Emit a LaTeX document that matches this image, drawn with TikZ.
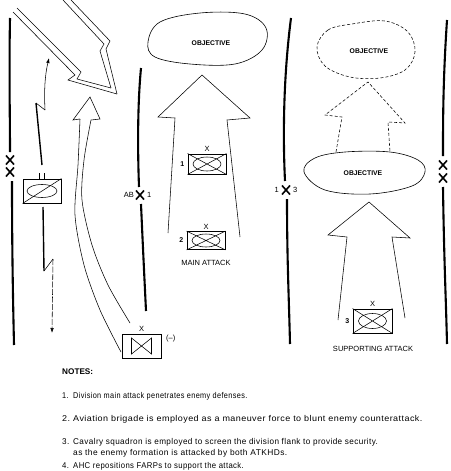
\documentclass[tikz,border=0pt]{standalone}
\usepackage{fontspec}
\setmainfont{Liberation Sans}
\usetikzlibrary{arrows.meta}
\begin{document}
\begin{tikzpicture}[x=1pt,y=-1pt,
  bound/.style={line width=2.1pt},
  xmk/.style={line width=1.6pt},
  fine/.style={line width=0.55pt},
  unitbox/.style={draw, line width=0.9pt, minimum width=38pt, minimum height=20pt, inner sep=0pt},
  lbl/.style={font=\fontsize{7.5}{8}\selectfont, inner sep=0pt},
  numl/.style={font=\bfseries\fontsize{7}{8}\selectfont, inner sep=0pt},
  objl/.style={font=\bfseries\fontsize{6.8}{7}\selectfont, inner sep=0pt},
  notel/.style={font=\fontsize{8.4}{10}\selectfont\addfontfeature{LetterSpace=5}, anchor=west, inner sep=0pt},
  arr/.style={-{Latex[length=5pt,width=3.5pt]}},
  bx/.pic={\draw[xmk] (-4,-4.5)--(4,4.5) (-4,4.5)--(4,-4.5);}
]
\useasboundingbox (0,0) rectangle (450,471);
\fill[white] (0,0) rectangle (450,471);

% ---------- boundaries ----------
\draw[bound] (10,18) .. controls (9,70) and (10,120) .. (10,152);
\pic at (10,160) {bx};
\pic at (10,172) {bx};
\draw[bound] (12,181) .. controls (12,250) and (13,300) .. (14,345);

\draw[bound] (141,68) .. controls (137,110) and (138,160) .. (139,187);
\pic at (140,195) {bx};
\node[lbl, anchor=east] (ab) at (134,195) {AB};
\node[lbl, anchor=west] (ab1) at (147,195) {1};
\draw[bound] (141,204) .. controls (143,250) and (145,290) .. (146,311);

\draw[bound] (291,18) .. controls (283,80) and (283,140) .. (285,181);
\pic at (286,190) {bx};
\node[lbl, anchor=east] (b13a) at (279,190) {1};
\node[lbl, anchor=west] (b13b) at (293,190) {3};
\draw[bound] (287,199) .. controls (287,260) and (289,300) .. (290,344);

\draw[bound] (447,20) .. controls (443,80) and (443,120) .. (443,156);
\pic at (443,165) {bx};
\pic at (443,178) {bx};
\draw[bound] (443,187) .. controls (444,260) and (446,300) .. (447,344);

% ---------- enemy arrows ----------
\draw[fine] (17,8) -- (81,72) -- (77,79) -- (111,88);
\draw[fine] (13,12) -- (75,75) -- (68,80) -- (117,94);
\draw[fine] (63,0) -- (104,44) -- (100,51) -- (111,88);
\draw[fine] (71,0) -- (110,41) -- (106,49) -- (117,94);

% ---------- cavalry squadron ----------
\node[unitbox, minimum height=24pt] (cav) at (42,191) {};
\draw[fine] (cav.south west) -- (cav.north east);
\draw[fine] (cav.center) ellipse (15pt and 6.5pt);
\draw[line width=0.7pt] ([xshift=-2.5pt]cav.north) -- ++(0,-6);
\draw[line width=0.7pt] ([xshift=2.5pt]cav.north) -- ++(0,-6);
\coordinate (cu0) at (42,165);
\coordinate (cu1) at (36,103);
\coordinate (cu2) at (45,110);
\coordinate (cu3) at (49,58);
\draw[line width=1.4pt] (cu0) -- (cu1);
\draw[fine] (cu1) -- (cu2);
\draw[fine, arr] (cu2) .. controls (44,90) and (45,75) .. (cu3);
\coordinate (cd0) at (43,207);
\coordinate (cd1) at (44,271);
\coordinate (cd2) at (53,259);
\coordinate (cd3) at (52,333);
\draw[line width=1.4pt] (cd0) -- (cd1);
\draw[fine] (cd1) -- (cd2);
\draw[fine, dash pattern=on 6pt off 1.5pt, arr] (cd2) -- (cd3);

% ---------- aviation brigade ----------
\node[unitbox, minimum width=39pt, minimum height=24pt] (avn) at (141.5,346) {};
\draw[fine] ([shift={(-10,-8)}]avn.center) -- ([shift={(10,8)}]avn.center) -- ([shift={(10,-8)}]avn.center) -- ([shift={(-10,8)}]avn.center) -- cycle;
\node[lbl, above=1.5pt] (avnx) at (avn.north) {X};
\node[lbl, anchor=west] (avnm) at (166,339) {(--)};
\coordinate (aL) at (80,119);
\coordinate (aR) at (91,120);
\draw[fine] (aL) -- (73,120) -- (90,97) -- (100,119) -- (aR);
\draw[fine] plot[smooth] coordinates {(80,119) (78,165) (75,215) (84,265) (100,310) (121,352)};
\draw[fine] plot[smooth] coordinates {(91,120) (84,160) (82,200) (92,245) (108,285) (130,323)};

% ---------- main attack ----------
\draw[line width=0.6pt] plot[smooth cycle, tension=0.6] coordinates {(148,42) (160,22) (200,13) (245,14) (266,28) (262,50) (235,64) (190,64) (155,57)};
\node[objl] (obj1) at (211,43) {OBJECTIVE};
\draw[fine] (168,233) -- (175,118) -- (158,117) -- (202,75) -- (250,118) -- (227,120) -- (240,237);
\node[unitbox] (u1) at (207,164) {};
\draw[fine] (u1.north west) -- (u1.south east) (u1.south west) -- (u1.north east);
\draw[fine] (u1.center) ellipse (14pt and 7pt);
\node[lbl, above=1.5pt] (u1x) at (u1.north) {X};
\node[numl, left=3pt] (u1n) at (u1.west) {1};
\node[unitbox, minimum height=18pt] (u2) at (206,240.5) {};
\draw[fine] (u2.north west) -- (u2.south east) (u2.south west) -- (u2.north east);
\draw[fine] (u2.center) ellipse (14pt and 6.5pt);
\node[lbl, above=1.5pt] (u2x) at (u2.north) {X};
\node[numl, left=3pt] (u2n) at (u2.west) {2};
\node[lbl] (ma) at (206,263) {MAIN ATTACK};

% ---------- supporting attack ----------
\draw[fine, dash pattern=on 3pt off 2pt] plot[smooth cycle, tension=0.6] coordinates {(317,47) (328,30) (352,24) (385,21) (408,32) (415,52) (405,70) (380,78) (350,77) (325,66)};
\node[objl] (obj3) at (369,51) {OBJECTIVE};
\draw[fine, dash pattern=on 3pt off 2pt] (336,152) -- (342,117) -- (325,115) -- (368,82) -- (405,123) -- (388,122) -- (390,152);
\draw[line width=0.6pt] plot[smooth cycle, tension=0.6] coordinates {(304,172) (315,158) (345,152) (390,152) (418,160) (425,172) (412,186) (370,194) (325,190)};
\node[objl] (obj2) at (363,173) {OBJECTIVE};
\draw[fine] (338,320) -- (347,237) -- (328,235) -- (369,202) -- (410,238) -- (392,237) -- (405,318);
\node[unitbox, minimum width=39pt, minimum height=24pt] (u3) at (372.5,321) {};
\draw[fine] (u3.north west) -- (u3.south east) (u3.south west) -- (u3.north east);
\draw[fine] (u3.center) ellipse (14pt and 7.5pt);
\node[lbl, above=1.5pt] (u3x) at (u3.north) {X};
\node[numl, left=3pt] (u3n) at (u3.west) {3};
\node[lbl] (sa) at (373,349) {SUPPORTING ATTACK};

% ---------- notes ----------
\node[notel, font=\bfseries\fontsize{8.2}{10}\selectfont] (nh) at (62,372) {NOTES:};
\node[notel] (n1) at (62,396) {\scalebox{0.87}[1]{\makebox[12.6pt][l]{1.}Division main attack penetrates enemy defenses.}};
\node[notel] (n2) at (62,419) {\scalebox{1.07}[1]{\makebox[10.3pt][l]{2.}Aviation brigade is employed as a maneuver force to blunt enemy counterattack.}};
\node[notel] (n3) at (62,442) {\scalebox{0.97}[1]{\makebox[11.3pt][l]{3.}Cavalry squadron is employed to screen the division flank to provide security.}};
\node[notel] (n3b) at (73,453) {as the enemy formation is attacked by both ATKHDs.};
\node[notel] (n4) at (62,466) {\scalebox{0.92}[1]{\makebox[12pt][l]{4.}AHC repositions FARPs to support the attack.}};
\end{tikzpicture}
\end{document}
